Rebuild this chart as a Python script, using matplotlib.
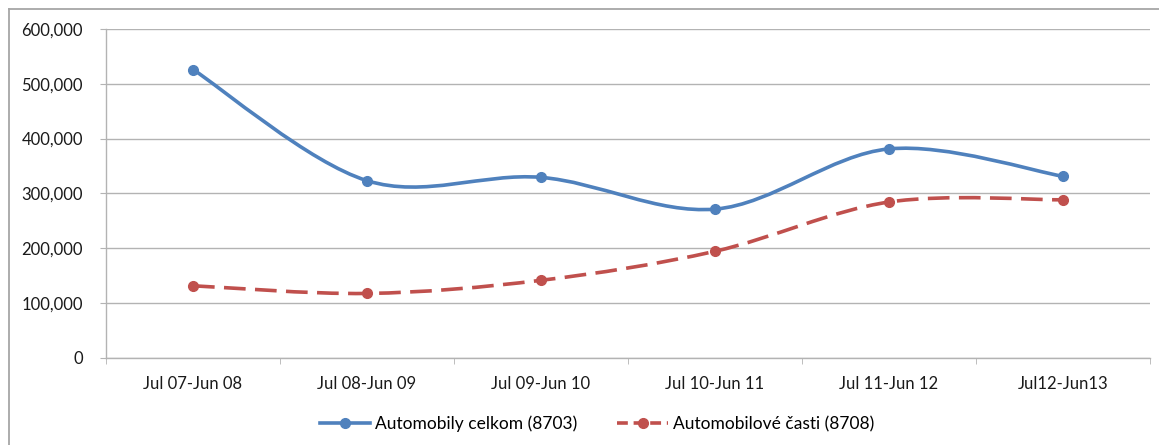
import numpy as np
import matplotlib
matplotlib.use("Agg")
import matplotlib.pyplot as plt
from matplotlib.path import Path
from matplotlib.patches import PathPatch
from matplotlib.lines import Line2D

plt.rcParams['font.family'] = ['Lato', 'DejaVu Sans']

# data
periods = ["Jul 07-Jun 08", "Jul 08-Jun 09", "Jul 09-Jun 10",
           "Jul 10-Jun 11", "Jul 11-Jun 12", "Jul12-Jun13"]
cars_total = [526000, 323000, 329000, 271000, 381000, 331000]   # 8703
car_parts = [131000, 117000, 141000, 194000, 284000, 288000]    # 8708
y_ticks = [0, 100000, 200000, 300000, 400000, 500000, 600000]

BLUE = "#4F81BD"
RED = "#C0504D"
GRID = "#B3B3B3"


def smooth_path(xs, ys):
    # Excel-like smoothed line: cubic bezier through the points
    pts = np.column_stack([xs, ys]).astype(float)
    n = len(pts)
    verts = [pts[0]]
    codes = [Path.MOVETO]
    for i in range(n - 1):
        p_prev = pts[max(i - 1, 0)]
        p0, p1 = pts[i], pts[i + 1]
        p_next = pts[min(i + 2, n - 1)]
        c1 = p0 + (p1 - p_prev) / 6.0
        c2 = p1 - (p_next - p0) / 6.0
        verts += [c1, c2, p1]
        codes += [Path.CURVE4] * 3
    return Path(verts, codes)


fig = plt.figure(figsize=(11.59, 4.45), dpi=100)
ax = fig.add_axes([106 / 1159, 87.5 / 445, 1044 / 1159, 328.5 / 445])

x = np.arange(len(periods))

ax.add_patch(PathPatch(smooth_path(x, cars_total), fill=False, edgecolor=BLUE,
                       lw=2.6, capstyle='round', joinstyle='round', zorder=3))
ax.add_patch(PathPatch(smooth_path(x, car_parts), fill=False, edgecolor=RED,
                       lw=2.6, linestyle=(0, (6.0, 2.6)), capstyle='butt', zorder=3))
ax.plot(x, cars_total, 'o', color=BLUE, ms=7, zorder=4)
ax.plot(x, car_parts, 'o', color=RED, ms=7, zorder=4)

ax.set_xlim(-0.5, len(periods) - 0.5)
ax.set_ylim(0, 600000)
ax.set_yticks(y_ticks)
ax.set_yticklabels([f"{v:,}" for v in y_ticks])
ax.set_xticks(x)
ax.set_xticklabels(periods)
ax.set_xticks(np.arange(-0.5, len(periods)), minor=True)

ax.grid(axis='y', color=GRID, lw=1.0)
ax.set_axisbelow(True)
for s in ['top', 'right']:
    ax.spines[s].set_visible(False)
for s in ['left', 'bottom']:
    ax.spines[s].set_color(GRID)
    ax.spines[s].set_linewidth(1.0)

ax.tick_params(axis='y', length=4.5, color=GRID, pad=12, labelsize=12, labelcolor='#1a1a1a')
ax.tick_params(axis='x', which='major', length=0, pad=13, labelsize=12, labelcolor='#1a1a1a')
ax.tick_params(axis='x', which='minor', length=4, color=GRID)

handles = [
    Line2D([], [], color=BLUE, lw=2.6, marker='o', ms=7),
    Line2D([], [], color=RED, lw=2.6, marker='o', ms=7, linestyle=(0, (3.0, 1.6))),
]
fig.legend(handles, ["Automobily celkom (8703)", "Automobilové časti (8708)"],
           loc='center', bbox_to_anchor=(0.515, 1 - 424 / 445), ncol=2, frameon=False,
           fontsize=12.5, handlelength=2.9, handletextpad=0.3, columnspacing=2.3)

# chart area border (only top and left visible in the crop)
fig.add_artist(Line2D([9 / 1159, 1.0], [1 - 8.5 / 445, 1 - 8.5 / 445], color='#A6A6A6', lw=1.3))
fig.add_artist(Line2D([9 / 1159, 9 / 1159], [0, 1 - 8.5 / 445], color='#A6A6A6', lw=1.3))

fig.savefig("out.png", dpi=100)
